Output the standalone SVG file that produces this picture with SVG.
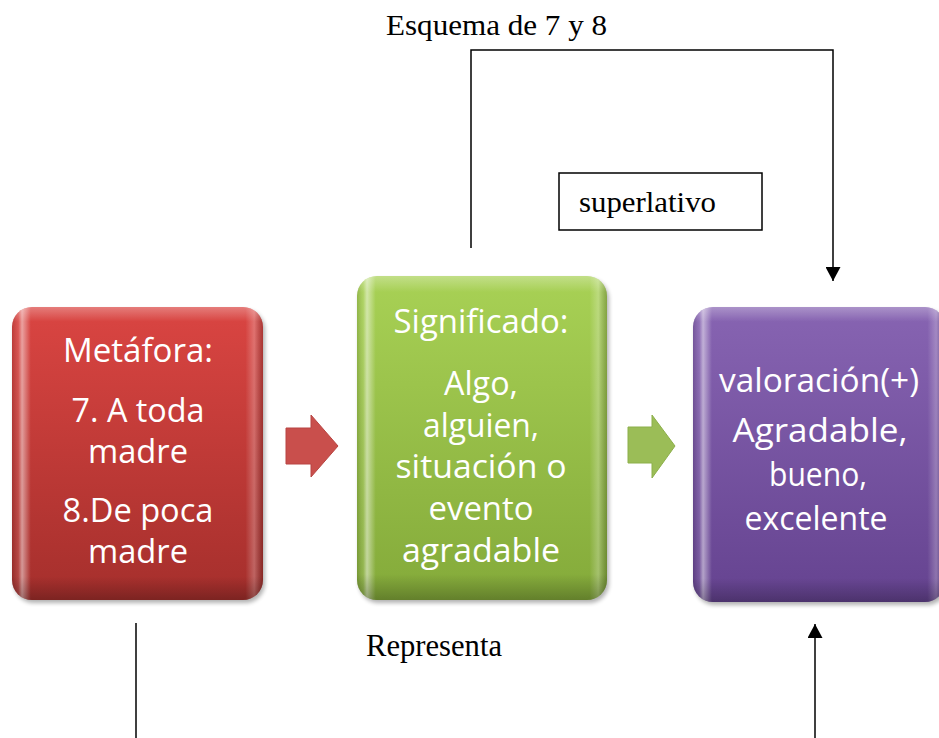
<svg xmlns="http://www.w3.org/2000/svg" width="939" height="738" viewBox="0 0 939 738">
<style>
.box-text{font-family:"Open Sans","Noto Sans","Liberation Sans",sans-serif;font-size:33px;fill:#ffffff;text-anchor:middle}
.serif{font-family:"Liberation Serif","Times New Roman",serif;fill:#000000}
.conn{fill:none;stroke:#000000;stroke-width:1.5}
</style>
<defs>
<linearGradient id="gRed" x1="0" y1="0" x2="0" y2="1">
<stop offset="0" stop-color="#da4542"/><stop offset="1" stop-color="#a52f2c"/>
</linearGradient>
<linearGradient id="gGreen" x1="0" y1="0" x2="0" y2="1">
<stop offset="0" stop-color="#a8d155"/><stop offset="1" stop-color="#84aa3a"/>
</linearGradient>
<linearGradient id="gPurple" x1="0" y1="0" x2="0" y2="1">
<stop offset="0" stop-color="#8764b2"/><stop offset="1" stop-color="#654390"/>
</linearGradient>
<linearGradient id="gH" x1="0" y1="0" x2="1" y2="0">
<stop offset="0" stop-color="#000" stop-opacity="0.12"/>
<stop offset="0.025" stop-color="#fff" stop-opacity="0.1"/>
<stop offset="0.04" stop-color="#fff" stop-opacity="0.5"/>
<stop offset="0.075" stop-color="#fff" stop-opacity="0"/>
<stop offset="0.93" stop-color="#fff" stop-opacity="0"/>
<stop offset="0.965" stop-color="#fff" stop-opacity="0.25"/>
<stop offset="1" stop-color="#000" stop-opacity="0.2"/>
</linearGradient>
<linearGradient id="gV" x1="0" y1="0" x2="0" y2="1">
<stop offset="0" stop-color="#fff" stop-opacity="0.3"/>
<stop offset="0.05" stop-color="#fff" stop-opacity="0"/>
<stop offset="0.92" stop-color="#000" stop-opacity="0"/>
<stop offset="1" stop-color="#000" stop-opacity="0.25"/>
</linearGradient>
<filter id="shadow" x="-10%" y="-10%" width="120%" height="120%">
<feGaussianBlur stdDeviation="2"/>
</filter>
<marker id="arr" markerWidth="14" markerHeight="15" refX="14" refY="7.5" orient="auto" markerUnits="userSpaceOnUse">
<path d="M0,0 L14,7.5 L0,15 Z" fill="#000"/>
</marker>
</defs>

<g id="title">
<text class="serif" x="386" y="35" font-size="30" textLength="221" lengthAdjust="spacingAndGlyphs">Esquema de 7 y 8</text>
</g>

<g id="node-metafora">
<rect x="14" y="310" width="251" height="293" rx="20" fill="#000" opacity="0.3" filter="url(#shadow)"/>
<rect x="12" y="307" width="251" height="293" rx="20" fill="url(#gRed)"/>
<rect x="12" y="307" width="251" height="293" rx="20" fill="url(#gH)"/>
<rect x="12" y="307" width="251" height="293" rx="20" fill="url(#gV)"/>
<text class="box-text" x="138" y="362" textLength="150" lengthAdjust="spacingAndGlyphs">Metáfora:</text>
<text class="box-text" x="138" y="422" textLength="133" lengthAdjust="spacingAndGlyphs">7. A toda</text>
<text class="box-text" x="138" y="463" textLength="100" lengthAdjust="spacingAndGlyphs">madre</text>
<text class="box-text" x="138" y="522" textLength="151" lengthAdjust="spacingAndGlyphs">8.De poca</text>
<text class="box-text" x="138" y="563" textLength="100" lengthAdjust="spacingAndGlyphs">madre</text>
</g>

<g id="node-significado">
<rect x="359" y="279" width="250" height="324" rx="20" fill="#000" opacity="0.3" filter="url(#shadow)"/>
<rect x="357" y="276" width="250" height="324" rx="20" fill="url(#gGreen)"/>
<rect x="357" y="276" width="250" height="324" rx="20" fill="url(#gH)"/>
<rect x="357" y="276" width="250" height="324" rx="20" fill="url(#gV)"/>
<text class="box-text" x="481" y="333" textLength="175" lengthAdjust="spacingAndGlyphs">Significado:</text>
<text class="box-text" x="481" y="395" textLength="74" lengthAdjust="spacingAndGlyphs">Algo,</text>
<text class="box-text" x="481" y="437" textLength="116" lengthAdjust="spacingAndGlyphs">alguien,</text>
<text class="box-text" x="481" y="478" textLength="171" lengthAdjust="spacingAndGlyphs">situación o</text>
<text class="box-text" x="481" y="520" textLength="105" lengthAdjust="spacingAndGlyphs">evento</text>
<text class="box-text" x="481" y="562" textLength="158" lengthAdjust="spacingAndGlyphs">agradable</text>
</g>

<g id="node-valoracion">
<rect x="695" y="310" width="252" height="295" rx="20" fill="#000" opacity="0.3" filter="url(#shadow)"/>
<rect x="693" y="307" width="252" height="295" rx="20" fill="url(#gPurple)"/>
<rect x="693" y="307" width="252" height="295" rx="20" fill="url(#gH)"/>
<rect x="693" y="307" width="252" height="295" rx="20" fill="url(#gV)"/>
<text class="box-text" x="819" y="392" textLength="200" lengthAdjust="spacingAndGlyphs">valoración(+)</text>
<text class="box-text" x="820" y="442" textLength="175" lengthAdjust="spacingAndGlyphs">Agradable,</text>
<text class="box-text" x="818" y="486" textLength="98" lengthAdjust="spacingAndGlyphs">bueno,</text>
<text class="box-text" x="816" y="530" textLength="143" lengthAdjust="spacingAndGlyphs">excelente</text>
</g>

<g id="node-superlativo">
<rect x="559" y="173" width="203" height="57" fill="#fff" stroke="#000" stroke-width="1.5"/>
<text class="serif" x="579" y="212" font-size="30" textLength="137" lengthAdjust="spacingAndGlyphs">superlativo</text>
</g>

<g id="label-representa">
<text class="serif" x="366" y="656" font-size="31" textLength="136" lengthAdjust="spacingAndGlyphs">Representa</text>
</g>

<g id="connectors">
<path d="M286,428 H311 V415 L338,446 L311,477 V464 H286 Z" fill="#c94f4c" stroke="#b84542" stroke-width="1"/>
<path d="M628,427 H652 V415 L675,446 L652,478 V463 H628 Z" fill="#9bbd57" stroke="#8caf4a" stroke-width="1"/>
<path class="conn" d="M471,248 V50 H833 V281" marker-end="url(#arr)"/>
<path class="conn" d="M136,623 V738"/>
<path class="conn" d="M815,738 V624" marker-end="url(#arr)"/>
</g>
</svg>
